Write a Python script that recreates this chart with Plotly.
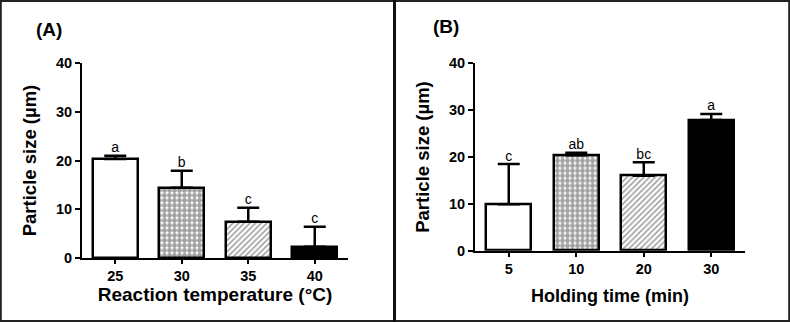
import plotly.graph_objects as go

# ---- data ----
temp_labels = ["25", "30", "35", "40"]
temp_means = [20.3, 14.4, 7.45, 2.3]
temp_err = [0.7, 3.5, 2.85, 4.1]
temp_letters = ["a", "b", "c", "c"]

time_labels = ["5", "10", "20", "30"]
time_means = [9.9, 20.4, 16.0, 27.9]
time_err = [8.6, 0.5, 2.9, 1.3]
time_letters = ["c", "ab", "bc", "a"]

y_ticks = [0, 10, 20, 30, 40]

FONT = "Arial, Liberation Sans, sans-serif"
W, H = 790, 322

fills = ["white", "white", "white", "black"]
pat_shapes = ["", ".", "/", ""]
pat_sizes = [4, 5, 4, 4]
pat_sol = [0.3, 0.72, 0.4, 0.3]

fig = go.Figure()


def add_panel(labels, means, err, letters, xa, ya):
    fig.add_trace(go.Bar(
        x=labels, y=means, xaxis=xa, yaxis=ya,
        width=0.67,
        marker=dict(
            color=fills,
            line=dict(color="black", width=2.5),
            pattern=dict(shape=pat_shapes, size=pat_sizes, solidity=pat_sol,
                         fgcolor="black", fillmode="overlay"),
        ),
        error_y=dict(type="data", symmetric=False, array=err,
                     arrayminus=[0] * len(err), color="black",
                     thickness=2.5, width=11),
        showlegend=False, hoverinfo="skip",
    ))
    tops = [m + e for m, e in zip(means, err)]
    fig.add_trace(go.Scatter(
        x=labels, y=tops, xaxis=xa, yaxis=ya, mode="text", text=letters,
        textposition="top center", cliponaxis=False,
        textfont=dict(family=FONT, size=14, color="black"),
        showlegend=False, hoverinfo="skip",
    ))


add_panel(temp_labels, temp_means, temp_err, temp_letters, "x", "y")
add_panel(time_labels, time_means, time_err, time_letters, "x2", "y2")

xcommon = dict(type="category", range=[-0.5, 3.5], showline=True, automargin=False,
               linecolor="black", linewidth=2, ticks="outside", ticklen=4,
               tickwidth=1.5, tickcolor="black", showgrid=False, zeroline=False,
               tickfont=dict(family=FONT, size=14.5, color="black", weight="bold"))
ycommon = dict(range=[0, 40], tickvals=y_ticks, showline=True, automargin=False,
               linecolor="black", linewidth=2, ticks="outside", ticklen=5,
               tickwidth=1.5, tickcolor="black", showgrid=False, zeroline=False,
               tickfont=dict(family=FONT, size=14.5, color="black", weight="bold"))

fig.update_layout(
    width=W, height=H,
    margin=dict(l=0, r=0, t=0, b=0, autoexpand=False),
    paper_bgcolor="white", plot_bgcolor="white",
    bargap=0,
    xaxis=dict(xcommon, domain=[82 / W, 348 / W], anchor="y",
               title=dict(text="Reaction temperature (°C)", standoff=3,
                          font=dict(family=FONT, size=19, color="black", weight="bold"))),
    yaxis=dict(ycommon, domain=[(H - 258) / H, (H - 63) / H], anchor="x",
               title=dict(text="Particle size (µm)", standoff=14,
                          font=dict(family=FONT, size=18.5, color="black", weight="bold"))),
    xaxis2=dict(xcommon, domain=[475 / W, 745 / W], anchor="y2",
                title=dict(text="Holding time (min)", standoff=13,
                           font=dict(family=FONT, size=18, color="black", weight="bold"))),
    yaxis2=dict(ycommon, domain=[(H - 250.7) / H, (H - 63.3) / H], anchor="x2",
                title=dict(text="Particle size (µm)", standoff=14,
                           font=dict(family=FONT, size=18.5, color="black", weight="bold"))),
    shapes=[
        dict(type="rect", xref="paper", yref="paper", x0=0.001, x1=0.999,
             y0=0.003, y1=0.997, line=dict(color="#222", width=2)),
        dict(type="line", xref="paper", yref="paper", x0=394.5 / W, x1=394.5 / W,
             y0=0, y1=1, line=dict(color="#111", width=3)),
    ],
)

fig.add_annotation(text="(A)", xref="paper", yref="paper", x=49 / W, y=(H - 29) / H,
                   showarrow=False, xanchor="center", yanchor="middle",
                   font=dict(family=FONT, size=19, color="black", weight="bold"))
fig.add_annotation(text="(B)", xref="paper", yref="paper", x=446 / W, y=(H - 27) / H,
                   showarrow=False, xanchor="center", yanchor="middle",
                   font=dict(family=FONT, size=19, color="black", weight="bold"))

fig.write_html("out.html", config={"displayModeBar": False},
               post_script="document.body.style.margin='0';document.body.style.overflow='hidden';")
